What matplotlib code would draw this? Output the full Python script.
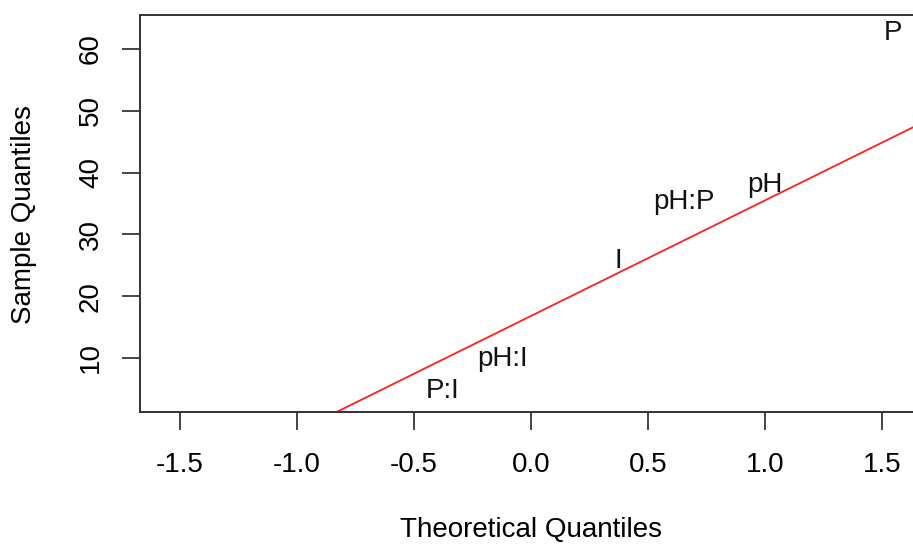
import matplotlib
matplotlib.use("Agg")
import matplotlib.pyplot as plt

# effect labels and their normal quantile positions
labels = ["P:I", "pH:I", "I", "pH:P", "pH", "P"]
theoretical = [-0.376, -0.12, 0.375, 0.655, 1.0, 1.547]
sample = [5.2, 10.4, 26.1, 35.8, 38.4, 63.0]

# reference line (qqline) intercept / slope
line_intercept = 16.8
line_slope = 18.7

x_ticks = [-1.5, -1.0, -0.5, 0.0, 0.5, 1.0, 1.5]
y_ticks = [10, 20, 30, 40, 50, 60]

plt.rcParams["font.family"] = ["Liberation Sans", "DejaVu Sans"]
fs = 20

fig = plt.figure(figsize=(9.13, 5.44), dpi=100)
ax = fig.add_axes([140 / 913, 132 / 544, 782 / 913, 397 / 544])
ax.set_xlim(-1.671, 1.671)
ax.set_ylim(1.26, 65.5)

for lab, x, y in zip(labels, theoretical, sample):
    # centre on cap height like R's text()
    ax.annotate(lab, (x, y), xytext=(0, -0.36 * fs), textcoords="offset points",
                ha="center", va="baseline", fontsize=fs, color="#111111")

ax.axline((0, line_intercept), slope=line_slope, color="#ff2020", lw=1.3)

ax.set_xticks(x_ticks)
ax.set_xticklabels(["%.1f" % t for t in x_ticks], fontsize=fs)
ax.set_yticks(y_ticks)
ax.set_yticklabels([str(t) for t in y_ticks], fontsize=fs, rotation=90, va="center")

for s in ax.spines.values():
    s.set_color("#333333")
    s.set_linewidth(1.4)

ax.tick_params(axis="x", length=13, width=1.4, color="#444444", pad=16)
ax.tick_params(axis="y", length=13, width=1.4, color="#444444", pad=13)

fig.text(531 / 913, 1 - 530 / 544, "Theoretical Quantiles", ha="center", va="center", fontsize=fs)
fig.text(24 / 913, 1 - 215 / 544, "Sample Quantiles", ha="center", va="center",
         rotation=90, fontsize=fs)

fig.savefig("out.png", dpi=100)
